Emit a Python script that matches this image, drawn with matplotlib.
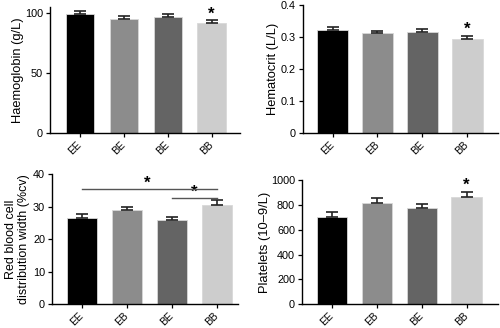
import matplotlib
matplotlib.use("Agg")
import matplotlib.pyplot as plt

plt.rcParams['font.family'] = ['Liberation Sans', 'DejaVu Sans']

colors = ['#000000', '#8c8c8c', '#646464', '#cdcdcd']

hb_labels = ['EE', 'BE', 'BE', 'BB']
hb_values = [99.4, 95.6, 97.2, 91.7]
hb_err = [2.5, 2.4, 2.2, 2.7]

hct_labels = ['EE', 'EB', 'BE', 'BB']
hct_values = [0.322, 0.312, 0.317, 0.295]
hct_err = [0.010, 0.008, 0.007, 0.009]

rdw_labels = ['EE', 'EB', 'BE', 'BB']
rdw_values = [26.7, 28.9, 26.05, 30.4]
rdw_err = [1.0, 1.15, 0.75, 1.8]

plt_labels = ['EE', 'EB', 'BE', 'BB']
plt_values = [705, 818, 777, 861]
plt_err = [40, 37, 30, 45]

fig = plt.figure(figsize=(5.0, 3.28), dpi=100)

def panel(rect, labels, values, err, ylim, yticks, yticklabels, ylabel, xlim, width, stars,
          labx, labsize=9.3):
    ax = fig.add_axes(rect)
    x = list(range(len(values)))
    ax.bar(x, values, width=width, color=colors, edgecolor='#d8d8d8', linewidth=0.6, zorder=2)
    ax.errorbar(x, values, yerr=[[0]*len(err), err], fmt='none', ecolor='#222222',
                elinewidth=1.2, capsize=4, capthick=1.2, zorder=3)
    for i in stars:
        ax.text(i, values[i] + err[i] - (ylim[1]-ylim[0])*0.01, '*', ha='center', va='bottom',
                fontsize=12, fontweight='bold')
    ax.set_ylim(*ylim)
    ax.set_xlim(*xlim)
    ax.set_yticks(yticks)
    ax.set_yticklabels(yticklabels, fontsize=7.8)
    ax.set_xticks(x)
    ax.set_xticklabels(labels, rotation=45, ha='right', va='center', fontsize=7.5,
                       rotation_mode='anchor')
    ax.set_ylabel(ylabel, fontsize=labsize, va='center', linespacing=1.15)
    ax.yaxis.set_label_coords(labx, 0.5)
    for s in ['top', 'right']:
        ax.spines[s].set_visible(False)
    for s in ['left', 'bottom']:
        ax.spines[s].set_linewidth(1.0)
    ax.tick_params(axis='both', length=3, width=0.9, pad=2)
    ax.tick_params(axis='x', pad=4)
    return ax

ax1 = panel([0.100, 0.5936, 0.380, 0.386], hb_labels, hb_values, hb_err, (0, 105.5),
            [0, 50, 100], ['0', '50', '100'], 'Haemoglobin (g/L)', (-0.685, 3.65), 0.64, [3],
            -0.168)
ax2 = panel([0.606, 0.5936, 0.390, 0.391], hct_labels, hct_values, hct_err, (0, 0.4),
            [0, 0.1, 0.2, 0.3, 0.4], ['0', '0.1', '0.2', '0.3', '0.4'], 'Hematocrit (L/L)',
            (-0.66, 3.69), 0.69, [3], -0.155)
ax3 = panel([0.104, 0.0723, 0.372, 0.3963], rdw_labels, rdw_values, rdw_err, (0, 40),
            [0, 10, 20, 30, 40], ['0', '10', '20', '30', '40'],
            'Red blood cell\ndistribution width (%cv)', (-0.66, 3.47), 0.67, [], -0.185, 9.0)
ax4 = panel([0.604, 0.0723, 0.392, 0.379], plt_labels, plt_values, plt_err, (0, 1000),
            [0, 200, 400, 600, 800, 1000], ['0', '200', '400', '600', '800', '1000'],
            'Platelets (10\u20139/L)', (-0.66, 3.7), 0.67, [3], -0.189)

# significance brackets on RDW panel
ax3.plot([0, 3], [35.4, 35.4], color='#555555', lw=1.0, zorder=4)
ax3.text(1.45, 35.0, '*', ha='center', va='bottom', fontsize=12, fontweight='bold')
ax3.plot([2, 3], [32.6, 32.6], color='#555555', lw=1.0, zorder=4)
ax3.text(2.5, 32.2, '*', ha='center', va='bottom', fontsize=12, fontweight='bold')

fig.savefig('out.png', dpi=100)
